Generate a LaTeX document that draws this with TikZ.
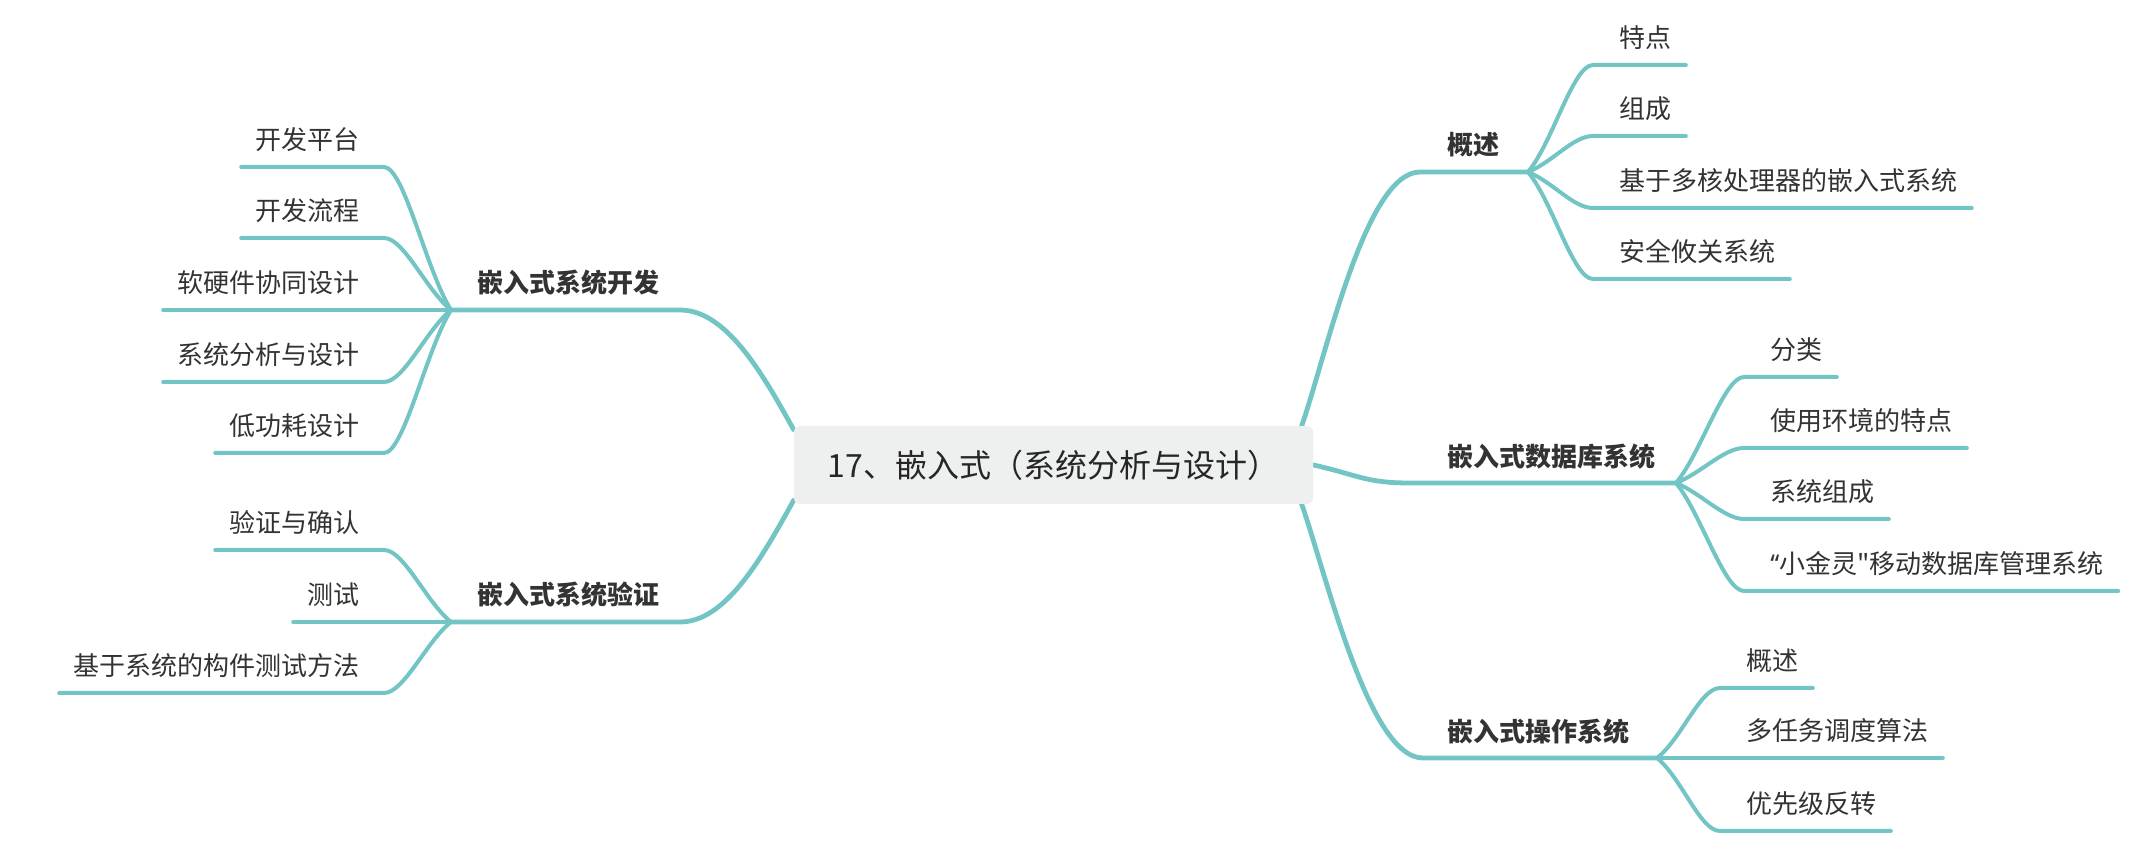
\documentclass[tikz,border=0pt]{standalone}
\usepackage{fontspec}
\setmainfont{Noto Sans CJK SC}[Ligatures=TeXOff]
\newfontfamily\latin{Noto Sans}[Ligatures=TeXOff]
\usetikzlibrary{calc,backgrounds}
\definecolor{branche}{RGB}{114,197,196}
\definecolor{encre}{RGB}{51,51,51}
\definecolor{fond}{RGB}{238,240,239}
\tikzset{racine/.style={fill=fond,rounded corners=3pt,minimum width=259.5pt,minimum height=39pt,font=\fontsize{16}{19}\selectfont,text=black!85},theme/.style={font=\fontsize{13}{16}\selectfont\bfseries,text=encre,inner sep=0pt},feuille/.style={font=\fontsize{13}{16}\selectfont,text=encre,inner sep=0pt},tronc/.style={draw=branche,line width=2.4pt,line cap=round},rameau/.style={draw=branche,line width=2pt,line cap=round}}

\begin{document}
\begin{tikzpicture}[x=0.5pt,y=-0.5pt]
\useasboundingbox (0,0) rectangle (2154,860);
\node[racine] (root) at (1053.5,465) {17、嵌入式（系统分析与设计）};
\node[theme,anchor=west] (ga) at (1447,145) {概述};
\node[theme,anchor=west] (db) at (1447,457) {嵌入式数据库系统};
\node[theme,anchor=west] (os) at (1447,732) {嵌入式操作系统};
\node[theme,anchor=east] (dev) at (660,283) {嵌入式系统开发};
\node[theme,anchor=east] (ver) at (660,595) {嵌入式系统验证};
\coordinate (fga) at (1528,172);
\coordinate (fdb) at (1676,483);
\coordinate (fos) at (1657,758);
\coordinate (fdev) at (451,310);
\coordinate (fver) at (451,622);
\begin{scope}[on background layer]
\draw[tronc] ($(root.north east)+(-13,4)$) .. controls +(25,-70) and +(-55,0) .. ($(ga.west)+(-27,27)$) -- (fga);
\draw[tronc] (root.east) .. controls +(45,10) and +(-45,0) .. ($(db.west)+(-37,26)$) -- (fdb);
\draw[tronc] ($(root.south east)+(-13,-4)$) .. controls +(25,70) and +(-55,0) .. ($(os.west)+(-24,26)$) -- (fos);
\draw[tronc] ($(root.north west)+(0,4)$) .. controls +(-33,-60) and +(45,0) .. ($(dev.east)+(20,27)$) -- (fdev);
\draw[tronc] ($(root.south west)+(0,-4)$) .. controls +(-33,60) and +(45,0) .. ($(ver.east)+(20,27)$) -- (fver);
\end{scope}
\foreach \y/\txt [count=\i] in {65/特点,136/组成,208/基于多核处理器的嵌入式系统,279/安全攸关系统}{
\node[feuille,anchor=west] (ga\i) at (1619,\y-27) {\txt};
\draw[rameau] (fga) .. controls +(25,{0.28*(\y-172)}) and +(-20,0) .. ($(ga\i.west)+(-26,27)$) -- ($(ga\i.east)+(14,27)$);
}
\foreach \y/\txt [count=\i] in {377/分类,448/使用环境的特点,519/系统组成,591/{\latin ‘‘}小金灵"移动数据库管理系统}{
\node[feuille,anchor=west] (db\i) at (1770,\y-27) {\txt};
\draw[rameau] (fdb) .. controls +(25,{0.28*(\y-483)}) and +(-20,0) .. ($(db\i.west)+(-26,27)$) -- ($(db\i.east)+(14,27)$);
}
\foreach \y/\txt [count=\i] in {688/概述,758/多任务调度算法,831/优先级反转}{
\node[feuille,anchor=west] (os\i) at (1746,\y-27) {\txt};
\draw[rameau] (fos) .. controls +(25,{0.28*(\y-758)}) and +(-20,0) .. ($(os\i.west)+(-26,27)$) -- ($(os\i.east)+(14,27)$);
}
\foreach \y/\txt [count=\i] in {167/开发平台,238/开发流程,310/软硬件协同设计,382/系统分析与设计,453/低功耗设计}{
\node[feuille,anchor=east] (dev\i) at (360,\y-27) {\txt};
\draw[rameau] (fdev) .. controls +(-25,{0.28*(\y-310)}) and +(20,0) .. ($(dev\i.east)+(24,27)$) -- ($(dev\i.west)+(-14,27)$);
}
\foreach \y/\txt [count=\i] in {550/验证与确认,622/测试,693/基于系统的构件测试方法}{
\node[feuille,anchor=east] (ver\i) at (360,\y-27) {\txt};
\draw[rameau] (fver) .. controls +(-25,{0.28*(\y-622)}) and +(20,0) .. ($(ver\i.east)+(24,27)$) -- ($(ver\i.west)+(-14,27)$);
}
\end{tikzpicture}
\end{document}
